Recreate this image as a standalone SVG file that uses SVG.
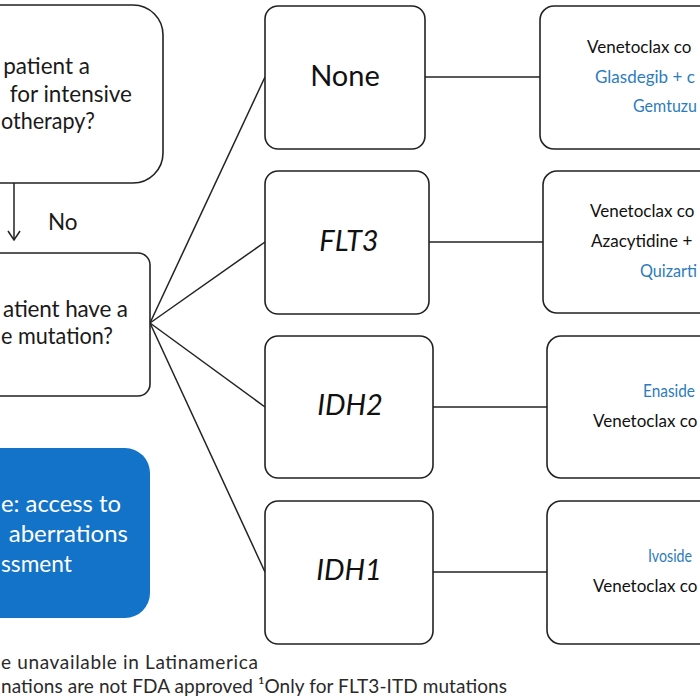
<svg xmlns="http://www.w3.org/2000/svg" width="700" height="700" viewBox="0 0 700 700">
<defs>
<style>
.box{fill:#ffffff;stroke:#222222;stroke-width:1.6}
.blue{fill:#1273c8;stroke:none}
.q{font-family:Lato,"Noto Sans",sans-serif;font-size:22.5px;fill:#1a1a1a}
.w{font-family:Lato,"Noto Sans",sans-serif;font-size:24px;fill:#ffffff}
.mid{font-family:Lato,"Noto Sans",sans-serif;font-size:29px;fill:#111111;text-anchor:middle}
.it{font-style:italic}
.t{font-family:Lato,"Noto Sans",sans-serif;font-size:17px;fill:#111111}
.tb{font-family:Lato,"Noto Sans",sans-serif;font-size:17px;fill:#2c7cbd}
.foot{font-family:Lato,"Noto Sans",sans-serif;font-size:19px;fill:#2a2a2a}
.conn{stroke:#222222;stroke-width:1.5;fill:none}
</style>
<marker id="arr" viewBox="0 0 12 14" refX="11" refY="7" markerWidth="12" markerHeight="14" markerUnits="userSpaceOnUse" orient="auto">
<path d="M2,1 L11,7 L2,13" fill="none" stroke="#222222" stroke-width="1.5"/>
</marker>
</defs>

<g id="connectors">
<path class="conn" d="M14,183 L14,240" marker-end="url(#arr)"/>
<path class="conn" d="M150,323 L265,77"/>
<path class="conn" d="M150,323 L265,242"/>
<path class="conn" d="M150,323 L265,407"/>
<path class="conn" d="M150,323 L265,572"/>
<path class="conn" d="M425,77 L540,77"/>
<path class="conn" d="M429,242 L543,242"/>
<path class="conn" d="M433,407 L547,407"/>
<path class="conn" d="M433,572 L547,572"/>
<text class="q" x="48" y="230">No</text>
</g>

<g id="q1">
<rect class="box" x="-200" y="5" width="363" height="178" rx="30"/>
<text class="q" x="90" y="74" text-anchor="end">patient a</text>
<text class="q" x="132" y="102" text-anchor="end">for intensive</text>
<text class="q" x="1" y="129" textLength="94" lengthAdjust="spacingAndGlyphs">otherapy?</text>
</g>

<g id="q2">
<rect class="box" x="-200" y="253" width="350" height="143" rx="12"/>
<text class="q" x="3" y="317" textLength="125" lengthAdjust="spacing">atient have a</text>
<text class="q" x="1" y="344" textLength="112" lengthAdjust="spacingAndGlyphs">e mutation?</text>
</g>

<g id="note">
<rect class="blue" x="-200" y="448" width="350" height="170" rx="25"/>
<text class="w" x="1" y="512" textLength="120" lengthAdjust="spacingAndGlyphs">e: access to</text>
<text class="w" x="128" y="542" text-anchor="end">aberrations</text>
<text class="w" x="1" y="572" textLength="71" lengthAdjust="spacingAndGlyphs">ssment</text>
</g>

<g id="m-none">
<rect class="box" x="265" y="6" width="160" height="143" rx="13"/>
<text class="mid" x="345" y="86">None</text>
</g>
<g id="m-flt3">
<rect class="box" x="265" y="171" width="164" height="143" rx="13"/>
<text class="mid it" x="349" y="251">FLT3</text>
</g>
<g id="m-idh2">
<rect class="box" x="265" y="336" width="168" height="142" rx="13"/>
<text class="mid it" x="350" y="415">IDH2</text>
</g>
<g id="m-idh1">
<rect class="box" x="265" y="501" width="168" height="143" rx="13"/>
<text class="mid it" x="349" y="580">IDH1</text>
</g>

<g id="r-none">
<rect class="box" x="540" y="6" width="200" height="143" rx="14"/>
<text class="t" x="587" y="53">Venetoclax co</text>
<text class="tb" x="595" y="83">Glasdegib + c</text>
<text class="tb" x="633" y="112" textLength="64" lengthAdjust="spacingAndGlyphs">Gemtuzu</text>
</g>
<g id="r-flt3">
<rect class="box" x="543" y="171" width="200" height="142" rx="14"/>
<text class="t" x="590" y="217">Venetoclax co</text>
<text class="t" x="591" y="247">Azacytidine +</text>
<text class="tb" x="640" y="277" textLength="57" lengthAdjust="spacingAndGlyphs">Quizarti</text>
</g>
<g id="r-idh2">
<rect class="box" x="547" y="336" width="200" height="142" rx="14"/>
<text class="tb" x="643" y="397" textLength="52" lengthAdjust="spacingAndGlyphs">Enaside</text>
<text class="t" x="593" y="427">Venetoclax co</text>
</g>
<g id="r-idh1">
<rect class="box" x="547" y="501" width="200" height="143" rx="14"/>
<text class="tb" x="648" y="562" textLength="44" lengthAdjust="spacingAndGlyphs">Ivoside</text>
<text class="t" x="593" y="592">Venetoclax co</text>
</g>

<g id="footer">
<text class="foot" x="1" y="669" textLength="257" lengthAdjust="spacing">e unavailable in Latinamerica</text>
<text class="foot" x="1" y="693" textLength="506" lengthAdjust="spacing">nations are not FDA approved ¹Only for FLT3-ITD mutations</text>
</g>
</svg>
